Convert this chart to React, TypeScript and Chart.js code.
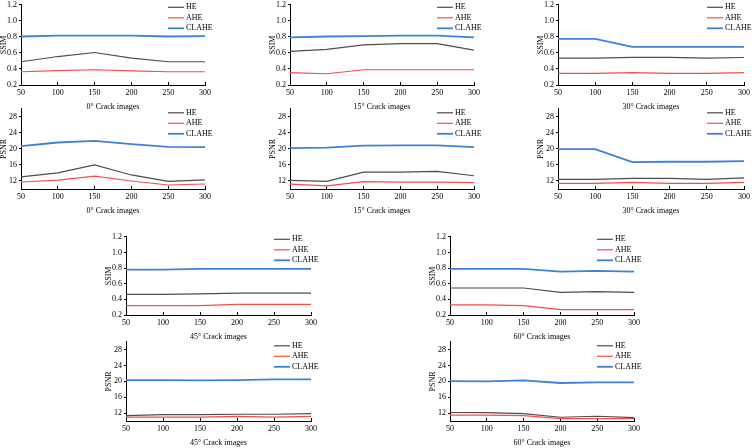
import React, { useEffect, useRef } from "react";
import { Chart, registerables } from "chart.js";

Chart.register(...registerables);

// Number of crack images on the horizontal axis
const imageCounts = [50, 100, 150, 200, 250, 300];

const methodNames = ["HE", "AHE", "CLAHE"];

// 0° crack images
const ssimHE0 = [0.49, 0.555, 0.605, 0.535, 0.49, 0.49];
const ssimAHE0 = [0.365, 0.378, 0.39, 0.375, 0.365, 0.365];
const ssimCLAHE0 = [0.805, 0.815, 0.815, 0.815, 0.805, 0.81];
const psnrHE0 = [13.0, 14.0, 16.0, 13.5, 11.9, 12.3];
const psnrAHE0 = [11.75, 12.2, 13.2, 12.0, 11.0, 11.25];
const psnrCLAHE0 = [20.7, 21.6, 22.0, 21.2, 20.5, 20.45];

// 15° crack images
const ssimHE15 = [0.62, 0.645, 0.7, 0.715, 0.715, 0.635];
const ssimAHE15 = [0.355, 0.34, 0.39, 0.39, 0.39, 0.39];
const ssimCLAHE15 = [0.795, 0.805, 0.81, 0.815, 0.815, 0.795];
const psnrHE15 = [12.15, 11.9, 14.2, 14.2, 14.4, 13.3];
const psnrAHE15 = [11.2, 10.8, 11.85, 11.7, 11.7, 11.6];
const psnrCLAHE15 = [20.2, 20.3, 20.8, 20.9, 20.9, 20.45];

// 30° crack images
const ssimHE30 = [0.535, 0.535, 0.545, 0.545, 0.535, 0.543];
const ssimAHE30 = [0.345, 0.345, 0.355, 0.345, 0.345, 0.355];
const ssimCLAHE30 = [0.775, 0.775, 0.675, 0.675, 0.675, 0.675];
const psnrHE30 = [12.4, 12.4, 12.65, 12.65, 12.4, 12.75];
const psnrAHE30 = [11.4, 11.4, 11.65, 11.4, 11.4, 11.65];
const psnrCLAHE30 = [19.95, 19.95, 16.7, 16.8, 16.8, 16.95];

// 45° crack images
const ssimHE45 = [0.465, 0.465, 0.47, 0.48, 0.48, 0.48];
const ssimAHE45 = [0.32, 0.32, 0.32, 0.335, 0.335, 0.335];
const ssimCLAHE45 = [0.78, 0.78, 0.79, 0.79, 0.79, 0.79];
const psnrHE45 = [11.35, 11.6, 11.6, 11.7, 11.7, 11.85];
const psnrAHE45 = [11.0, 11.0, 11.0, 11.15, 11.0, 11.15];
const psnrCLAHE45 = [20.3, 20.3, 20.25, 20.3, 20.5, 20.5];

// 60° crack images
const ssimHE60 = [0.545, 0.545, 0.545, 0.49, 0.5, 0.49];
const ssimAHE60 = [0.33, 0.33, 0.32, 0.27, 0.27, 0.27];
const ssimCLAHE60 = [0.79, 0.79, 0.79, 0.755, 0.765, 0.755];
const psnrHE60 = [12.15, 12.1, 11.85, 10.95, 11.2, 10.85];
const psnrAHE60 = [11.5, 11.5, 11.35, 10.6, 10.6, 10.6];
const psnrCLAHE60 = [20.05, 20.0, 20.25, 19.6, 19.75, 19.75];

const ssimTicks = [0.2, 0.4, 0.6, 0.8, 1.0, 1.2];
const psnrTicks = [12, 16, 20, 24, 28];

const FONT_FAMILY = '"Liberation Serif", "Times New Roman", serif';
const FONT_SIZE = 8;
const lineColors = ["#4d4d4d", "#ff4a4a", "#3b82dc"];
const lineWidths = [1.2, 1.2, 1.8];

// Legend drawn inside the plot area, top-right corner
const innerLegend = {
  id: "innerLegend",
  afterDraw(chart: any, _args: any, opts: any) {
    const { ctx, chartArea } = chart;
    ctx.save();
    ctx.font = `${FONT_SIZE}px ${FONT_FAMILY}`;
    ctx.textBaseline = "middle";
    ctx.textAlign = "left";
    chart.data.datasets.forEach((ds: any, i: number) => {
      const y = chartArea.top + opts.offsetY + i * 10.5;
      ctx.strokeStyle = ds.borderColor;
      ctx.lineWidth = ds.borderWidth;
      ctx.beginPath();
      ctx.moveTo(chartArea.right - 37, y);
      ctx.lineTo(chartArea.right - 21, y);
      ctx.stroke();
      ctx.fillStyle = "#000";
      ctx.fillText(ds.label, chartArea.right - 19, y);
    });
    ctx.restore();
  },
};

type PanelProps = {
  left: number;
  right: number;
  top: number;
  bottom: number;
  metric: "SSIM" | "PSNR";
  title: string;
  series: number[][];
};

const Y_AXIS_W = 22;
const X_AXIS_H = 27;
const PAD_TOP = 6;
const PAD_RIGHT = 8;

function Panel({ left, right, top, bottom, metric, title, series }: PanelProps) {
  const ref = useRef<HTMLCanvasElement | null>(null);
  const width = right - left + Y_AXIS_W + PAD_RIGHT;
  const height = bottom - top + PAD_TOP + X_AXIS_H;

  useEffect(() => {
    if (!ref.current) return;
    const font = { family: FONT_FAMILY, size: FONT_SIZE };
    const isSsim = metric === "SSIM";
    const yTicks = isSsim ? ssimTicks : psnrTicks;
    const chart = new Chart(ref.current, {
      type: "line",
      data: {
        datasets: series.map((vals, i) => ({
          label: methodNames[i],
          data: imageCounts.map((x, j) => ({ x, y: vals[j] })),
          borderColor: lineColors[i],
          backgroundColor: lineColors[i],
          borderWidth: lineWidths[i],
          pointRadius: 0,
          tension: 0,
          fill: false,
        })),
      },
      options: {
        responsive: false,
        animation: false,
        layout: { padding: { top: PAD_TOP, right: PAD_RIGHT, left: 0, bottom: 0 } },
        plugins: {
          legend: { display: false },
          tooltip: { enabled: false },
          innerLegend: { offsetY: isSsim ? 2.5 : 4 },
        } as any,
        scales: {
          x: {
            type: "linear",
            min: 50,
            max: 300,
            ticks: { stepSize: 50, padding: 6, color: "#000", font, maxRotation: 0 },
            grid: {
              display: true,
              drawOnChartArea: false,
              drawTicks: true,
              tickLength: -3,
              color: "#000",
            },
            border: { display: true, color: "#000", width: 1 },
            title: { display: true, text: title, color: "#000", font, padding: 0 },
            afterFit(s: any) {
              s.height = X_AXIS_H;
            },
          },
          y: {
            type: "linear",
            min: isSsim ? 0.2 : 10,
            max: isSsim ? 1.2 : 30,
            afterBuildTicks(s: any) {
              s.ticks = yTicks.map((v) => ({ value: v }));
            },
            ticks: {
              padding: 2,
              color: "#000",
              font,
              callback: (v: any) => (isSsim ? Number(v).toFixed(1) : String(v)),
            },
            grid: {
              display: true,
              drawOnChartArea: false,
              drawTicks: true,
              tickLength: 2,
              color: "#000",
            },
            border: { display: true, color: "#000", width: 1 },
            title: { display: true, text: metric, color: "#000", font, padding: 0 },
            afterFit(s: any) {
              s.width = Y_AXIS_W;
            },
          },
        },
      } as any,
      plugins: [innerLegend],
    });
    return () => chart.destroy();
  }, [metric, title, series]);

  return (
    <canvas
      ref={ref}
      width={width}
      height={height}
      style={{
        position: "absolute",
        left: left - Y_AXIS_W,
        top: top - PAD_TOP,
        width,
        height,
      }}
    />
  );
}

const panels: PanelProps[] = [
  { left: 21, right: 209, top: 4, bottom: 85, metric: "SSIM", title: "0\u00b0 Crack images", series: [ssimHE0, ssimAHE0, ssimCLAHE0] },
  { left: 21, right: 209, top: 108, bottom: 189, metric: "PSNR", title: "0\u00b0 Crack images", series: [psnrHE0, psnrAHE0, psnrCLAHE0] },
  { left: 290, right: 478, top: 4, bottom: 85, metric: "SSIM", title: "15\u00b0 Crack images", series: [ssimHE15, ssimAHE15, ssimCLAHE15] },
  { left: 290, right: 478, top: 108, bottom: 189, metric: "PSNR", title: "15\u00b0 Crack images", series: [psnrHE15, psnrAHE15, psnrCLAHE15] },
  { left: 558, right: 748, top: 4, bottom: 85, metric: "SSIM", title: "30\u00b0 Crack images", series: [ssimHE30, ssimAHE30, ssimCLAHE30] },
  { left: 558, right: 748, top: 108, bottom: 189, metric: "PSNR", title: "30\u00b0 Crack images", series: [psnrHE30, psnrAHE30, psnrCLAHE30] },
  { left: 126, right: 315, top: 236, bottom: 315, metric: "SSIM", title: "45\u00b0 Crack images", series: [ssimHE45, ssimAHE45, ssimCLAHE45] },
  { left: 126, right: 315, top: 341, bottom: 421, metric: "PSNR", title: "45\u00b0 Crack images", series: [psnrHE45, psnrAHE45, psnrCLAHE45] },
  { left: 450, right: 638, top: 236, bottom: 315, metric: "SSIM", title: "60\u00b0 Crack images", series: [ssimHE60, ssimAHE60, ssimCLAHE60] },
  { left: 450, right: 638, top: 341, bottom: 421, metric: "PSNR", title: "60\u00b0 Crack images", series: [psnrHE60, psnrAHE60, psnrCLAHE60] },
];

export default function App() {
  return (
    <div
      style={{
        position: "absolute",
        left: 0,
        top: 0,
        width: 754,
        height: 448,
        background: "#fff",
        overflow: "hidden",
      }}
    >
      {panels.map((p, i) => (
        <Panel key={i} {...p} />
      ))}
    </div>
  );
}
